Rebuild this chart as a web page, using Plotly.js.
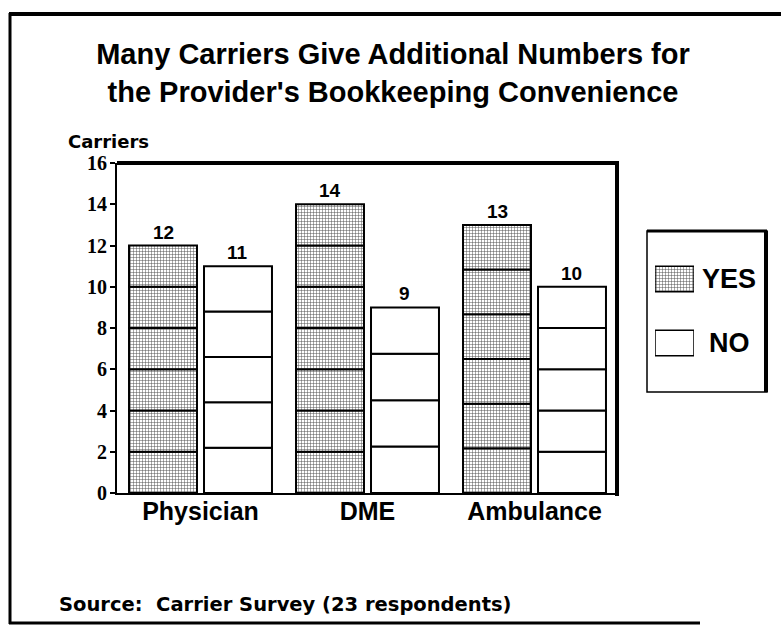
<!DOCTYPE html>
<html><head><meta charset="utf-8">
<script src="https://cdn.plot.ly/plotly-3.0.1.min.js"></script>
<style>html,body{margin:0;padding:0;background:#fff}</style>
</head><body><div id="chart" style="width:781px;height:628px"></div>
<script>
const categories = ['Physician', 'DME', 'Ambulance'];
const seriesNames = ['YES', 'NO'];
const yesValues = [12, 14, 13];
const noValues = [11, 9, 10];
const yesSegments = [6, 7, 6];
const noSegments = [5, 4, 5];
const yTickVals = [0, 2, 4, 6, 8, 10, 12, 14, 16];
const yTickText = ['0', '2', '4', '6', '8', '10', '12', '14', '16'];
const titleText = 'Many Carriers Give Additional Numbers for<br>the Provider\'s Bookkeeping Convenience';
const yTitleText = 'Carriers';
const sourceText = 'Source:\u00a0\u00a0Carrier Survey (23 respondents)';

const W = 781, H = 628;
const px = x => x / W;
const py = y => 1 - y / H;

const yesMarker = {color: '#ffffff', pattern: {shape: '+', size: 3, solidity: 0.3, fgcolor: '#505050', bgcolor: '#ffffff', fillmode: 'replace'}, line: {color: '#000', width: 2}};
const noMarker = {color: '#ffffff', line: {color: '#000', width: 2}};
const BAR_W = 0.407;
const offsets = {YES: -0.428, NO: 0.021};

function segTraces(values, segs, name, marker) {
  const traces = [];
  const maxSeg = Math.max(...segs);
  for (let k = 0; k < maxSeg; k++) {
    const xs = [], ys = [], bs = [];
    values.forEach((v, i) => {
      if (k < segs[i]) { xs.push(i); ys.push(v / segs[i]); bs.push(k * v / segs[i]); }
    });
    traces.push({type: 'bar', x: xs, y: ys, base: bs, width: BAR_W, offset: offsets[name],
      marker: marker, name: name, showlegend: false, hoverinfo: 'skip', xaxis: 'x', yaxis: 'y'});
  }
  return traces;
}

const data = [].concat(
  segTraces(yesValues, yesSegments, seriesNames[0], yesMarker),
  segTraces(noValues, noSegments, seriesNames[1], noMarker)
);

// legend swatches drawn as bars on a small helper axis
const legendMarkers = [yesMarker, noMarker];
seriesNames.forEach((n, i) => {
  data.push({type: 'bar', orientation: 'h', y: [n], x: [1], base: [0], width: 0.4,
    marker: Object.assign({}, legendMarkers[i], {line: {color: '#000', width: 1.5}}),
    xaxis: 'x2', yaxis: 'y2', showlegend: false, hoverinfo: 'skip'});
});

const annotations = [];
yesValues.forEach((v, i) => annotations.push({xref: 'x', yref: 'y', x: i + offsets.YES + BAR_W / 2, y: v,
  text: String(v), showarrow: false, yanchor: 'bottom', yshift: 1, font: {family: 'Liberation Sans, Arial', size: 19, color: '#000', weight: 'bold'}}));
noValues.forEach((v, i) => annotations.push({xref: 'x', yref: 'y', x: i + offsets.NO + BAR_W / 2, y: v,
  text: String(v), showarrow: false, yanchor: 'bottom', yshift: 1, font: {family: 'Liberation Sans, Arial', size: 19, color: '#000', weight: 'bold'}}));
const legendShift = [6, 13];
seriesNames.forEach((n, i) => annotations.push({xref: 'x2', yref: 'y2', x: 1, y: n, text: n, showarrow: false,
  xanchor: 'left', xshift: legendShift[i], font: {family: 'Liberation Sans, Arial', size: 27, color: '#000', weight: 'bold'}}));
annotations.push({xref: 'paper', yref: 'paper', x: px(66), y: py(141), xanchor: 'left', yanchor: 'middle', showarrow: false,
  text: yTitleText, font: {family: 'DejaVu Sans', size: 18, color: '#000', weight: 'bold'}});
annotations.push({xref: 'paper', yref: 'paper', x: px(57), y: py(604), xanchor: 'left', yanchor: 'middle', showarrow: false,
  text: sourceText, font: {family: 'DejaVu Sans', size: 19.5, color: '#000', weight: 'bold'}});

const line = (x0, y0, x1, y1, w) => ({type: 'line', xref: 'paper', yref: 'paper', x0: px(x0), y0: py(y0), x1: px(x1), y1: py(y1), line: {color: '#000', width: w}});

const shapes = [
  line(117, 163, 619, 163, 4),
  line(617, 163, 617, 496, 4),
  {type: 'rect', xref: 'paper', yref: 'paper', x0: px(647), x1: px(767), y0: py(392), y1: py(231), line: {color: '#000', width: 1.5}, layer: 'below'},
  line(647, 231, 767, 231, 3),
  line(766, 231, 766, 392, 4),
  line(10, 13, 10, 624, 3),
  line(9, 14, 781, 14, 4),
  line(9, 623, 700, 623, 3)
];

const layout = {
  width: W, height: H,
  margin: {l: 0, r: 0, t: 0, b: 0},
  paper_bgcolor: '#fff', plot_bgcolor: 'rgba(0,0,0,0)',
  barmode: 'overlay',
  showlegend: false,
  title: {text: titleText, x: px(393), xanchor: 'center', xref: 'paper', y: 1 - 64 / H, yref: 'container', yanchor: 'middle',
    font: {family: 'Liberation Sans, Arial', size: 29, color: '#000', weight: 'bold'}},
  xaxis: {domain: [px(117), px(618)], range: [-0.5, 2.5], tickvals: [0, 1, 2], ticktext: categories,
    showline: true, linecolor: '#000', linewidth: 2, ticks: '', showgrid: false, zeroline: false, fixedrange: true,
    ticklabelstandoff: -5,
    tickfont: {family: 'Liberation Sans, Arial', size: 25, color: '#000', weight: 'bold'}, anchor: 'y'},
  yaxis: {domain: [py(493), py(163)], range: [0, 16], tickvals: yTickVals, ticktext: yTickText,
    showline: true, linecolor: '#000', linewidth: 2, ticks: 'outside', ticklen: 5, tickwidth: 2, tickcolor: '#000',
    showgrid: false, zeroline: false, fixedrange: true, anchor: 'x', ticklabelstandoff: -1,
    tickfont: {family: 'Liberation Serif', size: 20, color: '#000', weight: 'bold'}},
  xaxis2: {domain: [px(655), px(694)], range: [0, 1], visible: false, anchor: 'y2', fixedrange: true},
  yaxis2: {domain: [py(375), py(247)], range: [-0.5, 1.5], type: 'category', categoryorder: 'array',
    categoryarray: seriesNames.slice().reverse(), visible: false, anchor: 'x2', fixedrange: true},
  shapes: shapes,
  annotations: annotations
};

Plotly.newPlot('chart', data, layout, {displayModeBar: false, staticPlot: true});
</script>
</body></html>
